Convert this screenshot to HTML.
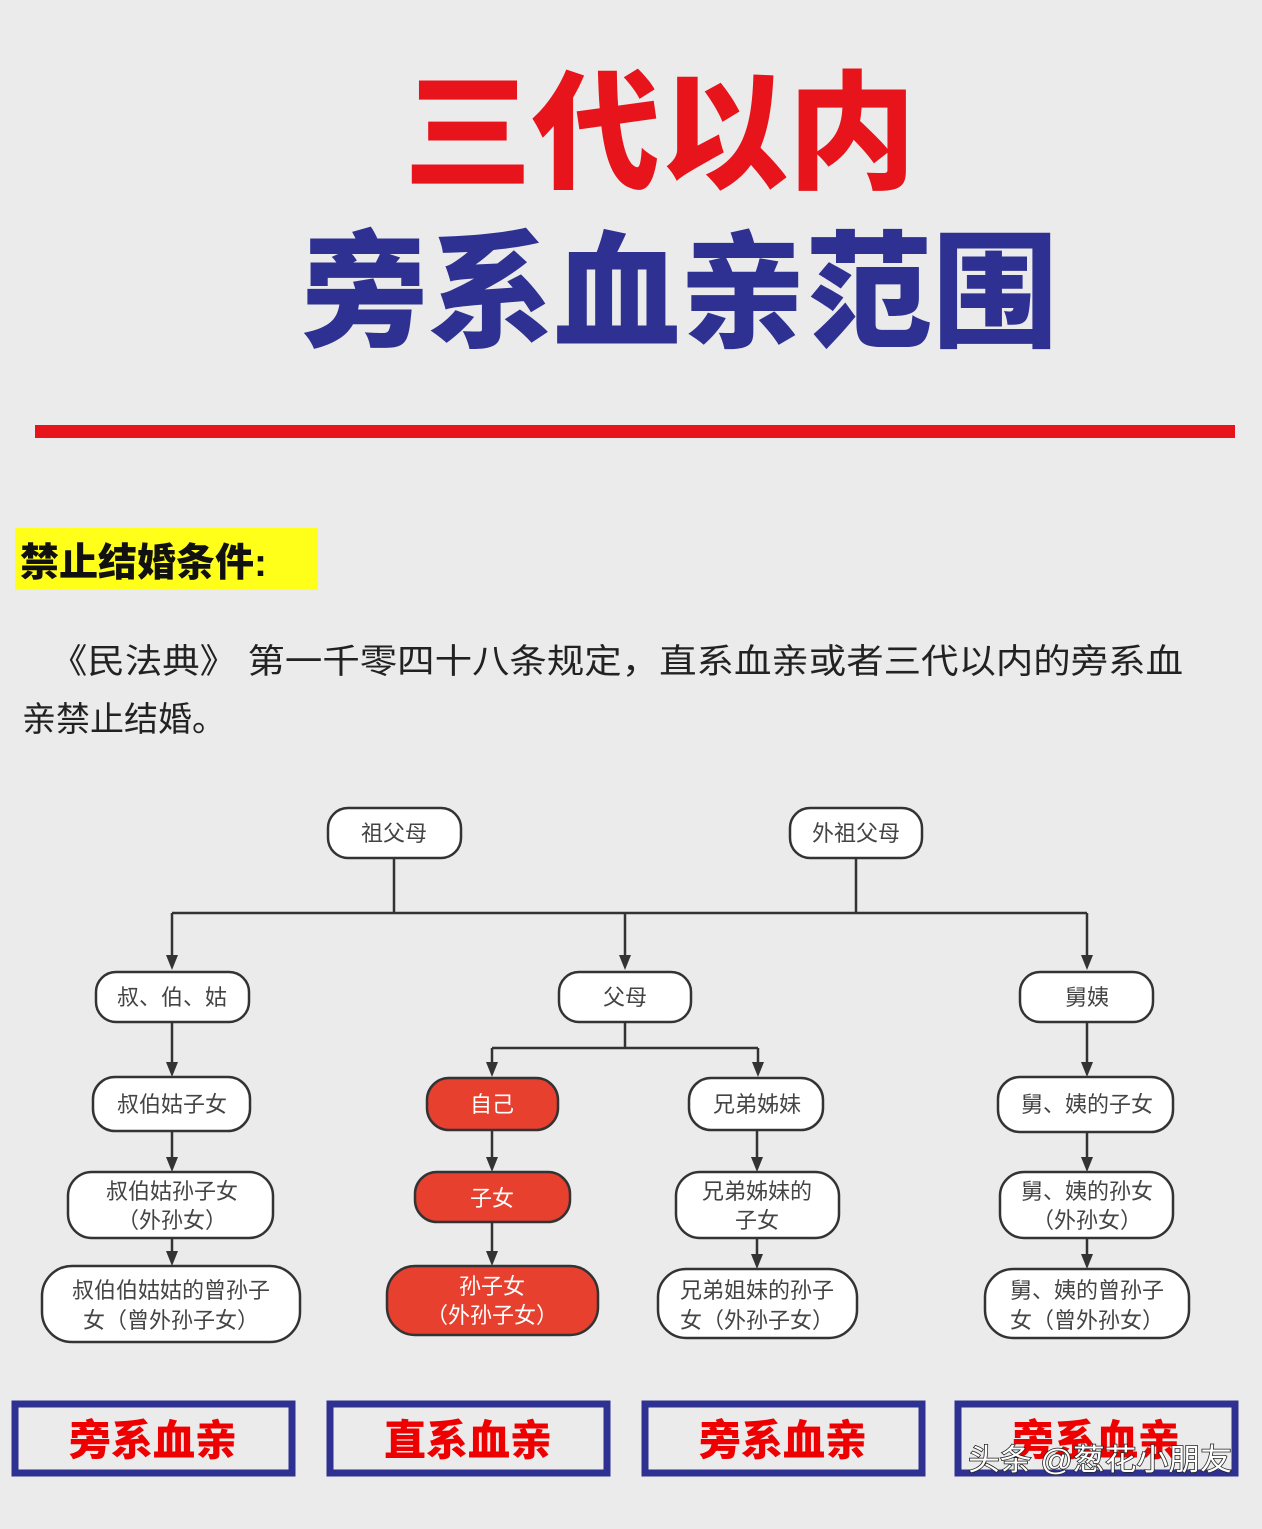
<!DOCTYPE html>
<html><head><meta charset="utf-8"><style>
html,body{margin:0;padding:0;background:#ebebeb;}
body{width:1262px;height:1529px;overflow:hidden;position:relative;font-family:"Liberation Sans","Noto Sans CJK SC",sans-serif;}
</style></head><body>
<svg width="1262" height="1529" xmlns="http://www.w3.org/2000/svg" style="position:absolute;left:0;top:0">
<style>
text{font-family:"Liberation Sans","Noto Sans CJK SC",sans-serif;}
.n{fill:#fff;stroke:#333;stroke-width:2.5}
.r{fill:#e8402f;stroke:#333;stroke-width:2.5}
.t{font-size:22px;fill:#444;text-anchor:middle}
.tw{font-size:22px;fill:#fff;text-anchor:middle}
.l{stroke:#333;stroke-width:2.5;fill:none}
.b{fill:#ebebeb;stroke:#2e3192;stroke-width:7}
.bt{font-size:42px;font-weight:900;fill:#e00;text-anchor:middle}
</style>
<text x="660" y="178" font-size="128" font-weight="900" fill="#e8141c" text-anchor="middle" style="font-family:'Noto Sans CJK SC',sans-serif">三代以内</text>
<text x="680" y="337" font-size="126" font-weight="900" fill="#2e3192" text-anchor="middle" style="font-family:'Noto Sans CJK SC',sans-serif">旁系血亲范围</text>
<rect x="35" y="425" width="1200" height="13" fill="#e8141c"/>
<rect x="15" y="528" width="303" height="62" fill="#ffff1a"/>
<text x="20" y="576" font-size="39" font-weight="900" fill="#111">禁止结婚条件:</text>
<text x="50" y="673" font-size="34" fill="#222" textLength="1133" lengthAdjust="spacingAndGlyphs">《民法典》 第一千零四十八条规定，直系血亲或者三代以内的旁系血</text>
<text x="22" y="731" font-size="34" fill="#222">亲禁止结婚。</text>

<path class="l" d="M394,858 V913 M856,858 V913 M172,913 H1087"/>
<path class="l" d="M172,913 V960 M625,913 V960 M1087,913 V960"/>
<polygon points="166,955 178,955 172,970" fill="#333"/>
<polygon points="619,955 631,955 625,970" fill="#333"/>
<polygon points="1081,955 1093,955 1087,970" fill="#333"/>
<path class="l" d="M625,1022 V1048 M492,1048 H758 M492,1048 V1065 M758,1048 V1065"/>
<polygon points="486,1062 498,1062 492,1077" fill="#333"/>
<polygon points="752,1062 764,1062 758,1077" fill="#333"/>
<path class="l" d="M172,1022 V1065 M172,1131 V1160 M172,1238 V1255 M1087,1022 V1065 M1087,1132 V1160 M1087,1238 V1257 M492,1130 V1160 M492,1222 V1253 M757,1130 V1160 M757,1238 V1257"/>
<g fill="#333">
<polygon points="166,1062 178,1062 172,1077"/>
<polygon points="166,1157 178,1157 172,1172"/>
<polygon points="166,1251 178,1251 172,1266"/>
<polygon points="1081,1062 1093,1062 1087,1077"/>
<polygon points="1081,1157 1093,1157 1087,1172"/>
<polygon points="1081,1254 1093,1254 1087,1269"/>
<polygon points="486,1157 498,1157 492,1172"/>
<polygon points="486,1251 498,1251 492,1266"/>
<polygon points="751,1157 763,1157 757,1172"/>
<polygon points="751,1254 763,1254 757,1269"/>
</g>

<rect class="n" x="328" y="808" width="133" height="50" rx="20"/><text class="t" x="394" y="841">祖父母</text>
<rect class="n" x="790" y="808" width="132" height="50" rx="20"/><text class="t" x="856" y="841">外祖父母</text>
<rect class="n" x="96" y="972" width="153" height="50" rx="20"/><text class="t" x="172" y="1005">叔、伯、姑</text>
<rect class="n" x="559" y="972" width="132" height="50" rx="20"/><text class="t" x="625" y="1005">父母</text>
<rect class="n" x="1020" y="972" width="133" height="50" rx="20"/><text class="t" x="1087" y="1005">舅姨</text>

<rect class="n" x="93" y="1077" width="157" height="54" rx="22"/><text class="t" x="172" y="1112">叔伯姑子女</text>
<rect class="r" x="427" y="1078" width="131" height="52" rx="22"/><text class="tw" x="492" y="1112">自己</text>
<rect class="n" x="689" y="1078" width="134" height="52" rx="22"/><text class="t" x="757" y="1112">兄弟姊妹</text>
<rect class="n" x="998" y="1077" width="175" height="55" rx="22"/><text class="t" x="1087" y="1112">舅、姨的子女</text>

<rect class="n" x="68" y="1172" width="205" height="66" rx="24"/><text class="t" x="172" y="1199">叔伯姑孙子女</text><text class="t" x="172" y="1228">（外孙女）</text>
<rect class="r" x="415" y="1172" width="155" height="50" rx="22"/><text class="tw" x="492" y="1206">子女</text>
<rect class="n" x="676" y="1172" width="163" height="66" rx="24"/><text class="t" x="757" y="1199">兄弟姊妹的</text><text class="t" x="757" y="1228">子女</text>
<rect class="n" x="1000" y="1172" width="173" height="66" rx="24"/><text class="t" x="1087" y="1199">舅、姨的孙女</text><text class="t" x="1087" y="1228">（外孙女）</text>

<rect class="n" x="42" y="1266" width="258" height="76" rx="30"/><text class="t" x="171" y="1298">叔伯伯姑姑的曾孙子</text><text class="t" x="171" y="1328">女（曾外孙子女）</text>
<rect class="r" x="387" y="1266" width="211" height="69" rx="28"/><text class="tw" x="492" y="1294">孙子女</text><text class="tw" x="492" y="1323">（外孙子女）</text>
<rect class="n" x="658" y="1269" width="199" height="69" rx="28"/><text class="t" x="757" y="1298">兄弟姐妹的孙子</text><text class="t" x="757" y="1328">女（外孙子女）</text>
<rect class="n" x="985" y="1269" width="204" height="69" rx="28"/><text class="t" x="1087" y="1298">舅、姨的曾孙子</text><text class="t" x="1087" y="1328">女（曾外孙女）</text>

<rect class="b" x="15" y="1404" width="277" height="69"/><text class="bt" x="153" y="1455">旁系血亲</text>
<rect class="b" x="330" y="1404" width="277" height="69"/><text class="bt" x="468" y="1455">直系血亲</text>
<rect class="b" x="645" y="1404" width="277" height="69"/><text class="bt" x="783" y="1455">旁系血亲</text>
<rect class="b" x="958" y="1404" width="277" height="69"/><text class="bt" x="1096" y="1455">旁系血亲</text>
<text x="968" y="1470" font-size="30" fill="#fff" stroke="#222" stroke-width="1.5" paint-order="stroke" textLength="264" lengthAdjust="spacingAndGlyphs">头条 @葱花小朋友</text>
</svg>
</body></html>
